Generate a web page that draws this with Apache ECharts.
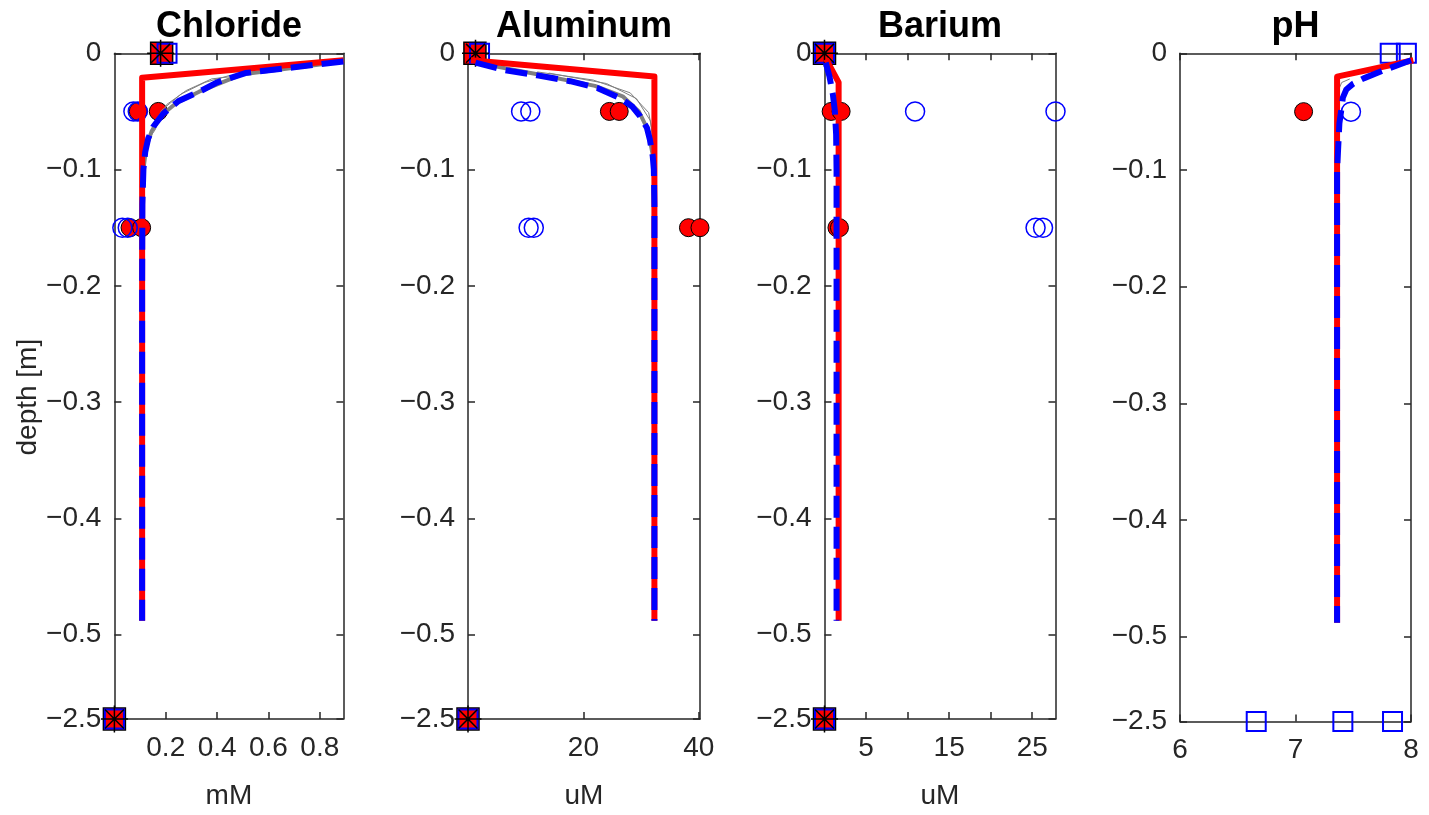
<!DOCTYPE html>
<html>
<head>
<meta charset="utf-8">
<script src="https://cdn.jsdelivr.net/npm/echarts@6/dist/echarts.min.js"></script>
<style>
  html, body { margin: 0; padding: 0; background: #fff; }
  #chart { width: 1429px; height: 815px; }
</style>
</head>
<body>
<div id="chart"></div>
<script>
// depth -2.5 is drawn just below -0.5 (broken axis), like the original figure
const Y_BREAK = -0.5726
const yTicks = [0, -0.1, -0.2, -0.3, -0.4, -0.5, -2.5]

const titles = ['Chloride', 'Aluminum', 'Barium', 'pH']
const units = ['mM', 'uM', 'uM', '']

// x ranges and ticks per panel
const xMin = [0, 0, 0, 6]
const xMax = [0.892, 40.2, 27.8, 8]
const xTicks = [[0.2, 0.4, 0.6, 0.8], [20, 40], [5, 10, 15, 20, 25], [6, 7, 8]]
const xLabels = [[0.2, 0.4, 0.6, 0.8], [20, 40], [5, 15, 25], [6, 7, 8]]

// ---- Chloride ----
const clRed = [[0.892, -0.006], [0.108, -0.021], [0.108, -0.488]]
const clModel = [[0.892, -0.007], [0.7, -0.012], [0.51, -0.017], [0.4, -0.025], [0.34, -0.032], [0.25, -0.041], [0.19, -0.052], [0.152, -0.063], [0.132, -0.073], [0.12, -0.085], [0.113, -0.1], [0.109, -0.13], [0.108, -0.2], [0.108, -0.488]]
const clGray = [[0.892, -0.007], [0.5, -0.018], [0.33, -0.033], [0.24, -0.043], [0.18, -0.054], [0.145, -0.067], [0.125, -0.08], [0.113, -0.1], [0.108, -0.14]]
const clThinA = [[0.13, -0.075], [0.158, -0.066], [0.204, -0.044], [0.28, -0.032], [0.379, -0.022], [0.457, -0.02], [0.55, -0.016]]
const clThinB = [[0.14, -0.07], [0.184, -0.049], [0.26, -0.035], [0.353, -0.025], [0.45, -0.019]]
const clObsRed = [[0.093, -0.05], [0.171, -0.05], [0.061, -0.15], [0.106, -0.15]]
const clObsBlue = [[0.074, -0.05], [0.091, -0.05], [0.031, -0.15], [0.052, -0.15]]
const clBndRed = [[0.184, 0], [0, -2.5]]
const clBndBlue = [[0.205, 0], [0, -2.5]]
const clBndStar = [[0.18, 0], [0, -2.5]]

// ---- Aluminum ----
const alRed = [[0.5, -0.006], [32.3, -0.02], [32.3, -0.488]]
const alModel = [[1.3, -0.008], [6.2, -0.0143], [12, -0.019], [17.7, -0.024], [22.5, -0.03], [26.4, -0.0386], [28.5, -0.046], [29.8, -0.054], [31.0, -0.064], [31.5, -0.074], [32.0, -0.088], [32.2, -0.1], [32.3, -0.13], [32.3, -0.488]]
const alGray = [[1.3, -0.008], [12, -0.018], [22, -0.028], [26.8, -0.037], [29.6, -0.05], [31.2, -0.066], [32.1, -0.09], [32.3, -0.12]]
const alThinA = [[12, -0.016], [21.7, -0.023], [28.1, -0.034], [31.3, -0.051], [32.2, -0.074], [32.3, -0.1]]
const alThinB = [[14, -0.017], [24, -0.026], [29.2, -0.039], [31.6, -0.058], [32.2, -0.08]]
const alObsRed = [[24.5, -0.05], [26.2, -0.05], [38.2, -0.15], [40.2, -0.15]]
const alObsBlue = [[9.2, -0.05], [10.8, -0.05], [10.5, -0.15], [11.4, -0.15]]
const alBndRed = [[1.2, 0], [0, -2.5]]
const alBndBlue = [[2.0, 0], [0, -2.5]]
const alBndStar = [[1.3, 0], [0, -2.5]]

// ---- Barium ----
const baRed = [[0.2, -0.005], [1.7, -0.025], [1.7, -0.488]]
const baModel = [[0.15, -0.008], [0.6, -0.02], [1.0, -0.035], [1.25, -0.05], [1.4, -0.07], [1.45, -0.1], [1.45, -0.488]]
const baObsRed = [[0.8, -0.05], [2.0, -0.05], [1.5, -0.15], [1.8, -0.15]]
const baObsBlue = [[10.9, -0.05], [27.8, -0.05], [25.4, -0.15], [26.3, -0.15]]
const baBndRed = [[0, 0], [0, -2.5]]
const baBndBlue = [[0, 0], [0, -2.5]]
const baBndStar = [[0, 0], [0, -2.5]]

// ---- pH ----
const phRed = [[8.02, -0.006], [7.36, -0.02], [7.36, -0.488]]
const phModel = [[8.0, -0.006], [7.75, -0.015], [7.59, -0.0215], [7.5, -0.026], [7.44, -0.031], [7.41, -0.038], [7.4, -0.046], [7.38, -0.06], [7.37, -0.08], [7.36, -0.1], [7.36, -0.488]]
const phThin = [[7.37, -0.032], [7.4, -0.025], [7.47, -0.022]]
const phObsRed = [[7.07, -0.05]]
const phObsBlue = [[7.48, -0.05]]
const phBndBlue = [[7.82, 0], [7.96, 0], [6.66, -2.5], [7.41, -2.5], [7.84, -2.5]]

const gridLeft = [114.4, 468, 824.5, 1180]
const gridWidth = [229, 232, 231, 231]
const gridTop = 53.3
const gridHeight = 668.2

const textColor = '#262626'
const font = "'Liberation Sans', Arial, sans-serif"
const starPath = 'path://M10,0L10,20M0,10L20,10M3,3L17,17M3,17L17,3'

const yPlot = (d) => (d < -1 ? Y_BREAK : d)
const yTickPlot = yTicks.map(yPlot)
// MATLAB writes negative tick labels with a real minus sign
const fmtNum = (v) => String(v).replace('-', '\u2212')

function toXY(arr) {
  return arr.map((p) => [p[0], yPlot(p[1])])
}

function line(g, data, color, width, type) {
  return {
    type: 'line',
    xAxisIndex: g * 2,
    yAxisIndex: g * 2,
    data: toXY(data),
    symbol: 'none',
    silent: true,
    lineStyle: { color: color, width: width, type: type || 'solid', cap: 'butt', join: 'round' },
  }
}

function marks(g, data, symbol, size, fill, border, borderWidth) {
  return {
    type: 'scatter',
    xAxisIndex: g * 2,
    yAxisIndex: g * 2,
    data: toXY(data),
    symbol: symbol,
    symbolSize: size,
    clip: false,
    silent: true,
    itemStyle: { color: fill, borderColor: border, borderWidth: borderWidth, opacity: 1 },
  }
}

const none = 'rgba(0,0,0,0)'
const dash = [22, 9]

const series = [
  // Chloride
  line(0, clThinA, '#808080', 1),
  line(0, clThinB, '#808080', 1),
  line(0, clGray, '#808080', 4),
  line(0, clRed, '#ff0000', 6),
  line(0, clModel, '#0000ff', 6, dash),
  marks(0, clObsRed, 'circle', 18, '#ff0000', '#000', 1),
  marks(0, clObsBlue, 'circle', 19, none, '#0000ff', 1.5),
  marks(0, clBndRed, 'rect', 22, '#ff0000', '#000', 1.5),
  marks(0, clBndBlue, 'rect', 19, none, '#0000ff', 2),
  marks(0, clBndStar, starPath, 27, none, '#000', 1.5),
  // Aluminum
  line(1, alThinA, '#808080', 1),
  line(1, alThinB, '#808080', 1),
  line(1, alGray, '#808080', 4),
  line(1, alRed, '#ff0000', 6),
  line(1, alModel, '#0000ff', 6, dash),
  marks(1, alObsRed, 'circle', 18, '#ff0000', '#000', 1),
  marks(1, alObsBlue, 'circle', 19, none, '#0000ff', 1.5),
  marks(1, alBndRed, 'rect', 22, '#ff0000', '#000', 1.5),
  marks(1, alBndBlue, 'rect', 19, none, '#0000ff', 2),
  marks(1, alBndStar, starPath, 27, none, '#000', 1.5),
  // Barium
  line(2, baRed, '#ff0000', 6),
  line(2, baModel, '#0000ff', 6, dash),
  marks(2, baObsRed, 'circle', 18, '#ff0000', '#000', 1),
  marks(2, baObsBlue, 'circle', 19, none, '#0000ff', 1.5),
  marks(2, baBndRed, 'rect', 22, '#ff0000', '#000', 1.5),
  marks(2, baBndBlue, 'rect', 19, none, '#0000ff', 2),
  marks(2, baBndStar, starPath, 27, none, '#000', 1.5),
  // pH
  line(3, phThin, '#808080', 1),
  line(3, phRed, '#ff0000', 6),
  line(3, phModel, '#0000ff', 6, dash),
  marks(3, phObsRed, 'circle', 18, '#ff0000', '#000', 1),
  marks(3, phObsBlue, 'circle', 19, none, '#0000ff', 1.5),
  marks(3, phBndBlue, 'rect', 19, none, '#0000ff', 2),
]

const grids = []
const xAxes = []
const yAxes = []
const graphics = []

const axisLine = { show: true, onZero: false, lineStyle: { color: textColor, width: 1.5 } }
const tickStyle = { show: true, inside: true, length: 7, lineStyle: { color: textColor, width: 1.5 } }

for (let g = 0; g < 4; g++) {
  grids.push({ left: gridLeft[g], top: gridTop, width: gridWidth[g], height: gridHeight, containLabel: false })

  xAxes.push({
    type: 'value', gridIndex: g, position: 'bottom', min: xMin[g], max: xMax[g],
    axisLine: axisLine,
    axisTick: Object.assign({ customValues: xTicks[g] }, tickStyle),
    axisLabel: { customValues: xLabels[g], color: textColor, fontSize: 28, fontFamily: font, margin: 15 },
    splitLine: { show: false },
    name: units[g], nameLocation: 'middle', nameGap: 63,
    nameTextStyle: { color: textColor, fontSize: 28, fontFamily: font },
  })
  xAxes.push({
    type: 'value', gridIndex: g, position: 'top', min: xMin[g], max: xMax[g],
    axisLine: axisLine,
    axisTick: Object.assign({ customValues: xTicks[g] }, tickStyle),
    axisLabel: { show: false },
    splitLine: { show: false },
  })

  yAxes.push({
    type: 'value', gridIndex: g, position: 'left', min: Y_BREAK, max: 0,
    axisLine: axisLine,
    axisTick: Object.assign({ customValues: yTickPlot }, tickStyle),
    axisLabel: {
      customValues: yTickPlot, color: textColor, fontSize: 28, fontFamily: font, margin: 13,
      formatter: (v) => {
        const i = yTickPlot.findIndex((t) => Math.abs(t - v) < 1e-6)
        return i >= 0 ? fmtNum(yTicks[i]) : ''
      },
    },
    splitLine: { show: false },
    name: g === 0 ? 'depth [m]' : '', nameLocation: 'middle', nameGap: 66, nameRotate: 90,
    nameTextStyle: { color: textColor, fontSize: 28, fontFamily: font, padding: [0, 22, 0, 0] },
  })
  yAxes.push({
    type: 'value', gridIndex: g, position: 'right', min: Y_BREAK, max: 0,
    axisLine: axisLine,
    axisTick: Object.assign({ customValues: yTickPlot }, tickStyle),
    axisLabel: { show: false },
    splitLine: { show: false },
  })

  graphics.push({
    type: 'text', x: gridLeft[g] + gridWidth[g] / 2, y: 27,
    style: { text: titles[g], fill: '#000', font: "bold 36px 'Liberation Sans', Arial, sans-serif", textAlign: 'center', textVerticalAlign: 'middle' },
  })
}

const chart = echarts.init(document.getElementById('chart'), null, { renderer: 'canvas' })
chart.setOption({
  animation: false,
  backgroundColor: '#ffffff',
  grid: grids,
  xAxis: xAxes,
  yAxis: yAxes,
  series: series,
  graphic: graphics,
})
</script>
</body>
</html>
